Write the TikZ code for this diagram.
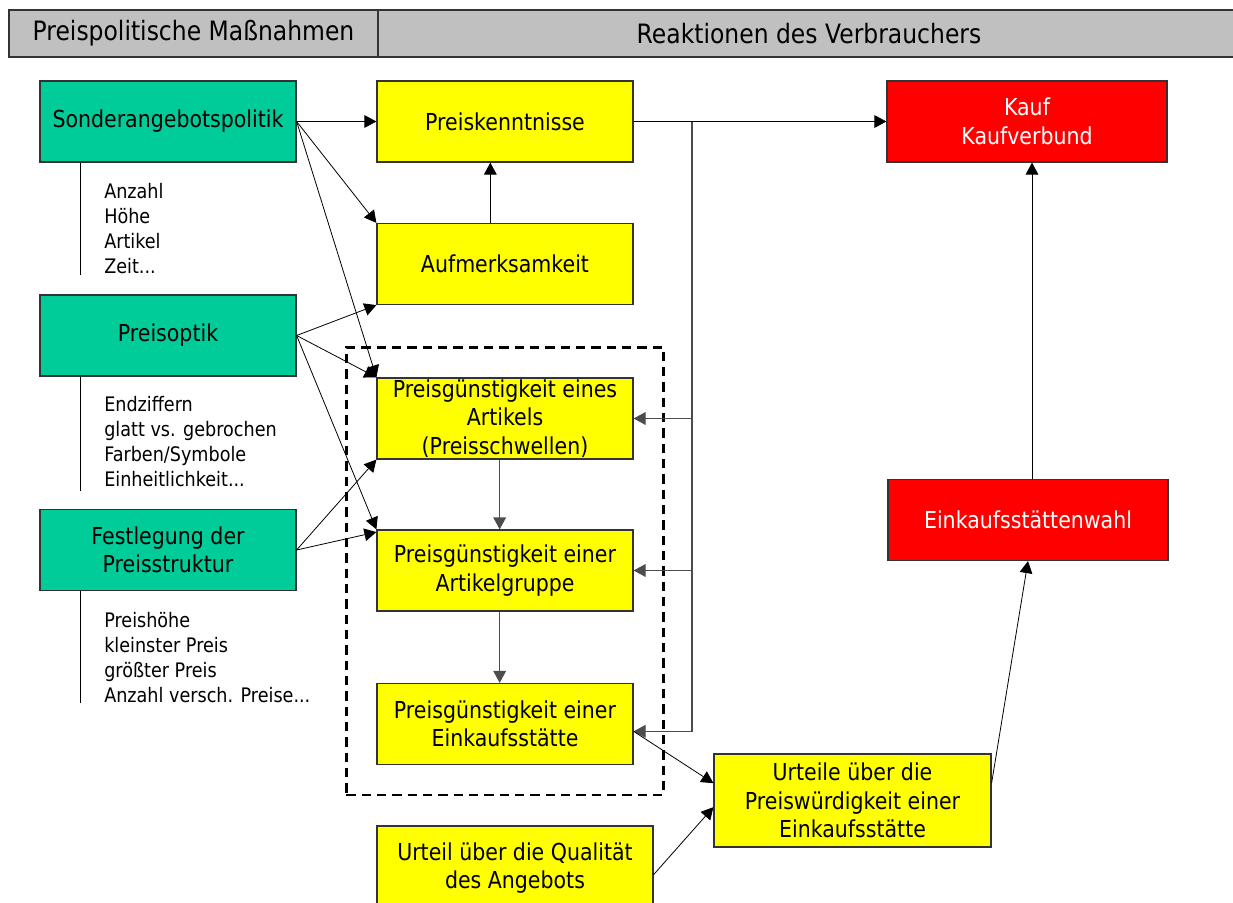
\documentclass[tikz,border=0pt]{standalone}
\usepackage{fontspec}
\setmainfont{DejaVu Sans}[FakeStretch=0.88]
\usetikzlibrary{arrows.meta,fit}
\definecolor{kopfgrau}{HTML}{C0C0C0}
\definecolor{tuerkis}{HTML}{00CC99}
\definecolor{gelb}{HTML}{FFFF00}
\definecolor{rot}{HTML}{FF0000}
\definecolor{rand}{HTML}{333333}

\tikzset{
	kasten/.style={draw=rand, line width=0.9pt, align=center, inner sep=0pt, minimum width=192pt, minimum height=60.75pt, font=\fontsize{17.5}{21.4}\selectfont},
	massnahme/.style={kasten, fill=tuerkis},
	reaktion/.style={kasten, fill=gelb},
	ergebnis/.style={kasten, fill=rot, text=white, minimum width=210pt},
	kopf/.style={draw=rand, line width=0.9pt, fill=kopfgrau, minimum height=35.25pt, font=\fontsize{20}{24}\selectfont},
	merkmale/.style={anchor=north west, inner sep=0pt, align=left, font=\fontsize{15}{18.75}\selectfont},
	pfeil/.style={-{Triangle[length=9pt,width=9.5pt]}, line width=0.6pt},
	rueck/.style={pfeil, draw=black!70, line width=0.9pt},
	rahmen/.style={draw, dash pattern=on 7pt off 4.5pt, line width=1.9pt, inner sep=22.5pt}
}

\begin{document}
\begin{tikzpicture}[x=0.75pt,y=-0.75pt]
	\useasboundingbox (0,0) rectangle (1233,903);
	\node [kopf, minimum width=276.75pt] (kopflinks) at (193.5,33.5) {Preispolitische Maßnahmen};
	\node [kopf, minimum width=646.5pt] (kopfrechts) at (809,33.5) {Reaktionen des Verbrauchers};
	\node [massnahme] (sonder) at (168,121.5) {Sonderangebotspolitik};
	\node [massnahme] (optik) at (168,335.5) {Preisoptik};
	\node [massnahme] (struktur) at (168,550) {Festlegung der\\Preisstruktur};
	\node [merkmale] (sonderliste) at (104,183) {Anzahl\\Höhe\\Artikel\\Zeit...};
	\node [merkmale] (optikliste) at (104,396) {Endziffern\\glatt vs. gebrochen\\Farben/Symbole\\Einheitlichkeit...};
	\node [merkmale] (strukturliste) at (104,612) {Preishöhe\\kleinster Preis\\größter Preis\\Anzahl versch. Preise...};
	\draw (sonder.south west) ++(41,0) -- ++(0,112);
	\draw (optik.south west) ++(41,0) -- ++(0,114);
	\draw (struktur.south west) ++(41,0) -- ++(0,112);
	\node [reaktion] (kenntnis) at (505,121.5) {Preiskenntnisse};
	\node [reaktion] (aufmerk) at (505,264) {Aufmerksamkeit};
	\node [reaktion] (artikel) at (505,418.5) {Preisgünstigkeit eines\\Artikels\\(Preisschwellen)};
	\node [reaktion] (gruppe) at (505,570.5) {Preisgünstigkeit einer\\Artikelgruppe};
	\node [reaktion] (laden) at (505,724) {Preisgünstigkeit einer\\Einkaufsstätte};
	\node [reaktion, minimum width=207pt, minimum height=63pt] (qualitaet) at (515,868) {Urteil über die Qualität\\des Angebots};
	\node [reaktion, minimum width=207.75pt, minimum height=69.75pt] (urteile) at (852.5,800.5) {Urteile über die\\Preiswürdigkeit einer\\Einkaufsstätte};
	\node [ergebnis] (kauf) at (1027,121.5) {Kauf\\Kaufverbund};
	\node [ergebnis] (wahl) at (1028,520) {Einkaufsstättenwahl};
	\node [rahmen, fit=(artikel)(laden)] (preisgruppe) {};
	\draw [pfeil] (sonder.east) -- (kenntnis.west);
	\draw [pfeil] (sonder.east) -- (aufmerk.north west);
	\draw [pfeil] (sonder.east) -- (artikel.north west);
	\draw [pfeil] (optik.east) -- (aufmerk.south west);
	\draw [pfeil] (optik.east) -- (artikel.north west);
	\draw [pfeil] (optik.east) -- (gruppe.north west);
	\draw [pfeil] (struktur.east) -- (artikel.south west);
	\draw [pfeil] (struktur.east) -- ([yshift=-2pt]gruppe.north west);
	\draw [pfeil] ([xshift=-11pt]aufmerk.north) -- ([xshift=-11pt]kenntnis.south);
	\draw [rueck] ([xshift=-4pt]artikel.south) -- ([xshift=-4pt]gruppe.north);
	\draw [rueck] ([xshift=-4pt]gruppe.south) -- ([xshift=-4pt]laden.north);
	\coordinate (knick) at (692,121.5);
	\draw [pfeil] (kenntnis.east) -- (kauf.west);
	\draw [rueck] (knick) |- ([yshift=-5.5pt]laden.east);
	\draw [rueck] (knick |- artikel.east) -- (artikel.east);
	\draw [rueck] (knick |- gruppe.east) -- (gruppe.east);
	\draw [pfeil] ([yshift=-5.5pt]laden.east) -- ([yshift=13pt]urteile.west);
	\draw [pfeil] ([yshift=-5pt]qualitaet.east) -- ([yshift=-5pt]urteile.west);
	\draw [pfeil] ([yshift=13pt]urteile.east) -- (wahl.south);
	\draw [pfeil] ([xshift=3pt]wahl.north) -- ([xshift=3pt]wahl.north |- kauf.south);
\end{tikzpicture}
\end{document}
